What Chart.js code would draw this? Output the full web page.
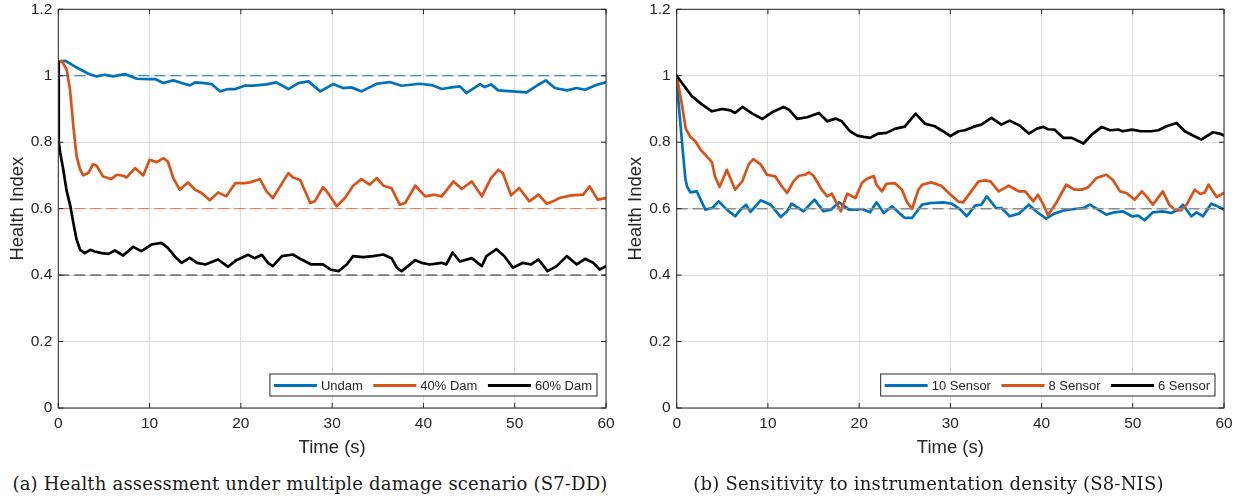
<!DOCTYPE html>
<html><head><meta charset="utf-8">
<script src="https://cdn.jsdelivr.net/npm/chart.js@4.4.1/dist/chart.umd.min.js"></script>
<style>
html,body{margin:0;padding:0;background:#fff;}
body{width:1245px;height:498px;position:relative;overflow:hidden;}
canvas{position:absolute;top:-6px;}
#ca{left:0;}
#cb{left:620px;}
.cap{position:absolute;top:473px;font-family:"DejaVu Serif",serif;font-size:18px;letter-spacing:0.2px;color:#1a1a1a;white-space:nowrap;text-align:center;line-height:22px;}
#capA{left:0;width:620px;}
#capB{left:616px;width:625px;}
</style></head><body>
<canvas id="ca" width="622" height="468"></canvas>
<canvas id="cb" width="625" height="468"></canvas>
<div class="cap" id="capA">(a) Health assessment under multiple damage scenario (S7-DD)</div>
<div class="cap" id="capB">(b) Sensitivity to instrumentation density (S8-NIS)</div>
<script>
// ---------- axes ----------
const xTickLabels = ['0','10','20','30','40','50','60'];
const yTickLabels = ['0','0.2','0.4','0.6','0.8','1','1.2'];
const xMin = 0, xMax = 60, xStep = 10;
const yMin = 0, yMax = 1.2, yStep = 0.2;

// ---------- panel (a): multiple damage scenario ----------
const undamTime = [0,0.8,1.8,3.3,4.2,5.1,6.0,7.3,8.6,9.9,10.6,11.5,12.6,13.5,14.4,15.0,16.0,16.8,17.7,18.6,19.4,20.4,21.4,22.8,23.9,25.2,26.3,27.4,28.7,30.1,31.2,32.1,33.2,34.9,36.3,37.6,39.6,40.9,42.0,43.3,44.0,44.7,46.2,46.7,47.4,48.2,49.8,51.3,52.6,53.4,54.4,55.7,56.8,57.7,59.0,60];
const undamHI = [1.043,1.045,1.028,1.006,0.998,1.003,0.998,1.005,0.991,0.990,0.990,0.978,0.986,0.978,0.971,0.980,0.978,0.975,0.953,0.960,0.960,0.970,0.970,0.974,0.980,0.960,0.978,0.983,0.953,0.975,0.963,0.965,0.953,0.976,0.981,0.970,0.976,0.972,0.960,0.966,0.968,0.948,0.975,0.966,0.974,0.956,0.953,0.950,0.973,0.986,0.963,0.956,0.963,0.958,0.973,0.980];

const dam40Time = [0,0.37,0.92,1.28,1.65,2.0,2.4,2.75,3.3,3.8,4.2,4.9,5.8,6.4,7.1,7.5,8.4,9.3,10.0,10.8,11.5,12.0,12.6,13.3,14.2,15.0,15.7,16.6,17.5,18.4,19.4,20.4,21.0,22.1,22.8,23.5,24.3,25.2,25.7,26.5,27.6,28.1,29.0,29.6,30.5,31.4,32.3,33.2,34.1,34.9,35.6,36.5,37.4,38.0,39.1,40.2,41.2,42.0,43.3,44.2,45.3,46.4,47.4,48.2,48.7,49.6,50.5,51.6,52.6,53.5,54.2,54.9,56.2,57.5,58.2,59.1,60];
const dam40HI = [1.043,1.044,1.019,0.959,0.848,0.758,0.717,0.700,0.708,0.734,0.729,0.697,0.689,0.702,0.699,0.694,0.722,0.700,0.747,0.740,0.752,0.742,0.692,0.657,0.679,0.657,0.647,0.625,0.649,0.637,0.677,0.677,0.679,0.689,0.652,0.632,0.667,0.707,0.694,0.686,0.617,0.622,0.665,0.645,0.607,0.632,0.669,0.689,0.672,0.692,0.669,0.662,0.612,0.617,0.669,0.637,0.642,0.637,0.682,0.659,0.682,0.637,0.692,0.717,0.707,0.640,0.662,0.622,0.642,0.615,0.622,0.632,0.640,0.642,0.667,0.627,0.632];

const dam60Time = [0,0.05,0.2,0.55,0.9,1.3,1.65,2.0,2.4,2.9,3.5,4.0,4.75,5.5,6.2,7.1,8.2,9.1,10.2,11.3,12.0,12.9,13.5,14.4,15.2,16.1,17.5,18.6,19.5,20.8,21.5,22.3,23.0,23.5,24.5,25.7,26.5,27.7,29.0,29.8,30.7,31.6,32.3,33.4,34.5,35.6,36.5,37.1,37.6,38.3,39.1,39.8,40.7,42.0,42.5,43.2,44.0,45.3,46.4,46.9,48.0,48.9,49.8,50.9,51.8,52.6,53.6,54.6,55.7,56.8,57.7,58.6,59.3,60];
const dam60HI = [1.040,0.800,0.770,0.717,0.655,0.610,0.557,0.507,0.476,0.466,0.476,0.471,0.466,0.464,0.474,0.459,0.485,0.472,0.492,0.497,0.482,0.452,0.437,0.452,0.437,0.432,0.447,0.425,0.445,0.461,0.451,0.461,0.436,0.427,0.457,0.462,0.449,0.432,0.432,0.417,0.412,0.432,0.457,0.454,0.457,0.462,0.451,0.422,0.412,0.427,0.445,0.437,0.432,0.437,0.432,0.468,0.441,0.451,0.427,0.457,0.478,0.456,0.422,0.437,0.432,0.447,0.412,0.427,0.457,0.432,0.449,0.437,0.417,0.427];

const refLevelsA = [1.0, 0.6, 0.4];

// ---------- panel (b): instrumentation density ----------
const s10Time = [0,0.2,0.4,0.55,0.76,0.95,1.13,1.5,2.2,2.8,3.14,3.9,4.6,5.5,6.4,7.0,7.6,8.1,9.2,10.3,11.4,12.1,12.6,13.9,15.1,16.1,16.9,17.8,18.9,19.8,20.3,21.2,21.9,22.7,23.6,24.3,25.0,25.8,26.9,27.9,29.2,30.15,31.1,31.8,32.7,33.4,34.0,35.0,35.6,36.5,37.5,38.6,39.5,40.5,41.4,42.5,43.6,44.6,45.3,46.2,47.1,48.0,48.9,49.9,50.6,51.3,52.2,53.3,54.2,55.0,55.5,56.4,57.0,57.7,58.6,59.3,60];
const s10HI = [1.000,0.920,0.858,0.810,0.747,0.690,0.667,0.649,0.652,0.617,0.597,0.602,0.622,0.597,0.577,0.597,0.612,0.590,0.625,0.612,0.575,0.592,0.615,0.592,0.627,0.592,0.597,0.619,0.597,0.597,0.599,0.589,0.619,0.587,0.607,0.589,0.572,0.572,0.612,0.617,0.619,0.615,0.597,0.577,0.609,0.612,0.637,0.602,0.602,0.577,0.585,0.612,0.590,0.570,0.585,0.595,0.599,0.602,0.612,0.597,0.582,0.589,0.592,0.577,0.579,0.565,0.589,0.592,0.587,0.597,0.612,0.577,0.589,0.577,0.615,0.607,0.597];

const s8Time = [0,0.5,1.0,1.5,2.05,2.6,3.14,3.87,4.2,4.7,5.5,6.4,7.2,7.9,8.4,9.2,9.9,10.8,11.4,12.1,12.8,13.4,14.1,14.5,15.0,15.9,16.5,17.0,18.0,18.7,19.6,20.3,20.8,21.6,21.9,22.5,23.0,23.9,24.7,25.2,25.8,26.5,26.9,27.9,29.0,30.15,30.9,31.4,32.2,33.1,33.8,34.4,35.3,36.4,37.5,38.2,39.1,39.6,40.2,40.7,41.6,42.7,43.6,44.4,45.1,46.0,47.1,47.8,48.6,49.3,50.2,51.0,51.5,52.2,53.3,54.0,54.6,55.3,55.9,56.8,57.4,57.9,58.3,59.2,60];
const s8HI = [1.000,0.925,0.840,0.816,0.803,0.778,0.762,0.739,0.697,0.665,0.717,0.657,0.683,0.734,0.749,0.733,0.702,0.697,0.672,0.647,0.682,0.699,0.702,0.709,0.699,0.657,0.637,0.645,0.592,0.645,0.632,0.677,0.689,0.698,0.672,0.652,0.675,0.677,0.657,0.622,0.599,0.657,0.672,0.679,0.669,0.639,0.621,0.619,0.649,0.682,0.685,0.682,0.652,0.669,0.652,0.652,0.622,0.642,0.612,0.580,0.617,0.672,0.657,0.657,0.664,0.692,0.702,0.687,0.652,0.647,0.627,0.652,0.637,0.612,0.652,0.612,0.597,0.595,0.612,0.657,0.644,0.649,0.672,0.635,0.647];

const s6Time = [0,0.58,1.68,2.8,3.87,5.0,5.9,6.4,7.2,8.3,9.4,10.45,11.7,12.3,13.2,14.3,15.6,16.5,17.4,18.1,19.0,19.8,20.5,21.2,22.1,23.0,23.9,25.0,26.2,27.2,28.3,29.2,30.0,30.9,31.6,32.5,33.4,34.5,35.6,36.5,37.6,38.6,39.5,40.2,40.7,41.4,42.4,43.3,44.6,45.5,46.6,47.5,48.4,48.9,49.9,50.9,52.0,52.8,53.7,54.8,55.7,56.6,57.5,58.8,59.5,60];
const s6HI = [1.000,0.978,0.938,0.913,0.893,0.900,0.896,0.888,0.906,0.886,0.870,0.890,0.906,0.898,0.870,0.875,0.888,0.863,0.871,0.863,0.833,0.820,0.816,0.813,0.826,0.828,0.840,0.847,0.886,0.856,0.848,0.833,0.818,0.833,0.836,0.846,0.853,0.873,0.853,0.865,0.850,0.826,0.841,0.846,0.839,0.838,0.813,0.813,0.796,0.823,0.846,0.836,0.838,0.833,0.838,0.833,0.833,0.836,0.848,0.858,0.833,0.820,0.808,0.830,0.826,0.820];

const refLevelsB = [0.6];

// ---------- styling ----------
const BLUE = '#0072BD', ORANGE = '#D95319', BLACK = '#000000', AXIS = '#262626';
const SANS = '"Liberation Sans", Arial, sans-serif';

function series(label, t, v, color, order) {
  return { label, data: t.map((tt, i) => ({ x: tt, y: v[i] })), borderColor: color, backgroundColor: color,
    borderWidth: 2.7, pointRadius: 0, tension: 0, borderJoinStyle: 'round', borderCapStyle: 'round', order, inLegend: true };
}
function refLine(level, color, width) {
  return { label: 'ref', data: [{ x: xMin, y: level }, { x: xMax, y: level }], borderColor: color,
    borderWidth: width, borderDash: [11, 5], pointRadius: 0, order: 0, inLegend: false };
}

const framePlugin = {
  id: 'frame',
  afterDraw(chart) {
    const { ctx, chartArea: a, scales: { x, y } } = chart;
    ctx.save();
    ctx.strokeStyle = AXIS; ctx.lineWidth = 1;
    ctx.strokeRect(a.left, a.top, a.right - a.left, a.bottom - a.top);
    ctx.beginPath();
    const tl = 5;
    x.ticks.forEach(t => { const px = x.getPixelForValue(t.value);
      ctx.moveTo(px, a.bottom); ctx.lineTo(px, a.bottom - tl);
      ctx.moveTo(px, a.top); ctx.lineTo(px, a.top + tl); });
    y.ticks.forEach(t => { const py = y.getPixelForValue(t.value);
      ctx.moveTo(a.left, py); ctx.lineTo(a.left + tl, py);
      ctx.moveTo(a.right, py); ctx.lineTo(a.right - tl, py); });
    ctx.stroke();
    // legend box
    const items = chart.data.datasets.filter(d => d.inLegend);
    ctx.font = '13px ' + SANS;
    const lineLen = 43, g1 = 4, g2 = 10.5, padL = 4, padR = 5, h = 22;
    const widths = items.map(d => ctx.measureText(d.label).width);
    let total = padL + padR + g2 * (items.length - 1);
    widths.forEach(w => total += lineLen + g1 + w);
    const right = a.right - 9, bottom = a.bottom - 12;
    const x0 = right - total, y0 = bottom - h, cy = y0 + h / 2 + 0.5;
    ctx.fillStyle = '#fff'; ctx.fillRect(x0, y0, total, h);
    ctx.strokeStyle = AXIS; ctx.lineWidth = 1; ctx.strokeRect(x0, y0, total, h);
    let cx = x0 + padL;
    items.forEach((d, i) => {
      ctx.strokeStyle = d.borderColor; ctx.lineWidth = 3; ctx.setLineDash([]);
      ctx.beginPath(); ctx.moveTo(cx, cy); ctx.lineTo(cx + lineLen, cy); ctx.stroke();
      cx += lineLen + g1;
      ctx.fillStyle = AXIS; ctx.textBaseline = 'middle'; ctx.textAlign = 'left';
      ctx.fillText(d.label, cx, cy + 0.5);
      cx += widths[i] + g2;
    });
    ctx.restore();
  }
};

function makeChart(id, datasets, yAxisWidth, padRight, titlePad) {
  return new Chart(document.getElementById(id), {
    type: 'line',
    data: { datasets },
    plugins: [framePlugin],
    options: {
      responsive: false, animation: false, devicePixelRatio: 1,
      layout: { padding: { top: 5, right: padRight, left: 0, bottom: 0 } },
      plugins: { legend: { display: false }, tooltip: { enabled: false } },
      scales: {
        x: { type: 'linear', min: xMin, max: xMax,
          ticks: { stepSize: xStep, padding: 6, color: AXIS, font: { family: SANS, size: 15.5 }, maxRotation: 0,
            callback: (v, i) => xTickLabels[i] },
          grid: { color: '#dfdfdf', lineWidth: 1, drawTicks: false }, border: { display: false },
          title: { display: true, text: 'Time (s)', color: AXIS, font: { family: SANS, size: 18.5 }, padding: { top: 0, bottom: 3 } },
          afterFit: s => { s.height = 54; } },
        y: { type: 'linear', min: yMin, max: yMax,
          ticks: { stepSize: yStep, padding: 6, color: AXIS, font: { family: SANS, size: 15.5 },
            callback: (v, i) => yTickLabels[i] },
          grid: { color: '#dfdfdf', lineWidth: 1, drawTicks: false }, border: { display: false },
          title: { display: true, text: 'Health Index', color: AXIS, font: { family: SANS, size: 18.5 }, padding: { top: titlePad, bottom: 0 } },
          afterFit: s => { s.width = yAxisWidth; } }
      }
    }
  });
}

makeChart('ca', [
  series('Undam', undamTime, undamHI, BLUE, 3),
  series('40% Dam', dam40Time, dam40HI, ORANGE, 2),
  series('60% Dam', dam60Time, dam60HI, BLACK, 1),
  refLine(refLevelsA[0], BLUE, 1),
  refLine(refLevelsA[1], 'rgba(217,83,25,0.75)', 1),
  refLine(refLevelsA[2], '#222', 1)
], 58.3, 16, 7);

makeChart('cb', [
  series('10 Sensor', s10Time, s10HI, BLUE, 3),
  series('8 Sensor', s8Time, s8HI, ORANGE, 2),
  series('6 Sensor', s6Time, s6HI, BLACK, 1),
  refLine(refLevelsB[0], '#8c8c8c', 1.5)
], 56.7, 21, 5);
</script>
</body></html>
